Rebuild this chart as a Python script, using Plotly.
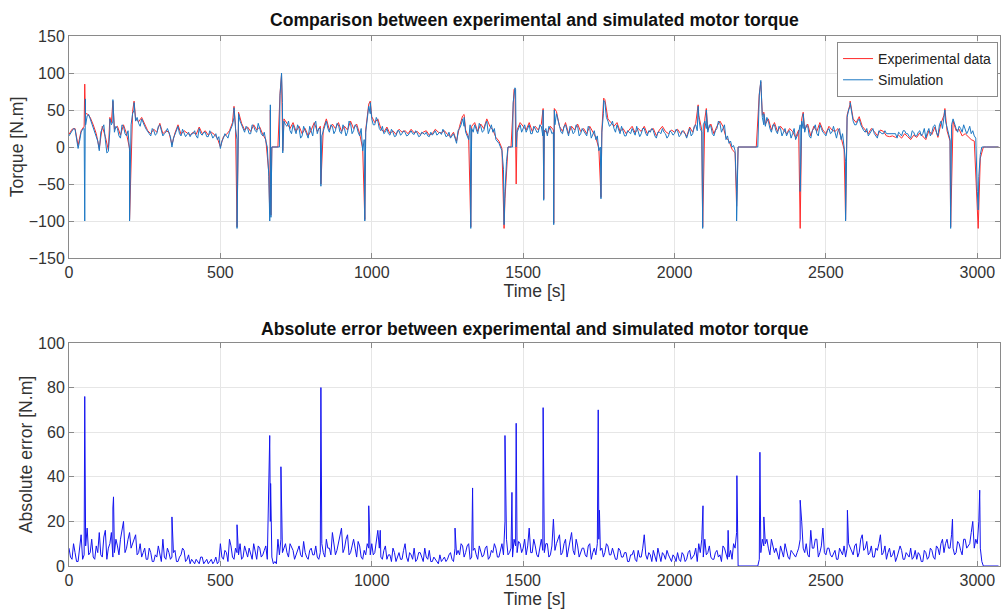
import numpy as np
import plotly.graph_objects as go
from plotly.subplots import make_subplots

# ---------------- data ----------------
# base samples every 10 s (t = 0, 10, ... 3070)
grid_step = 10
sim_base = [
    15, 22, 24, -2, 20, 25, 42, 38, 28, 15,
    -5, 25, 10, -6, 30, 20, 25, 12, 28, 15,
    -5, 45, 35, 32, 38, 28, 20, 15, 22, 18,
    30, 15, 20, 18, 0, 17, 28, 15, 20, 17,
    14, 18, 15, 25, 16, 20, 14, 18, 15, 10,
    -2, 12, 15, 20, 30, 25, 45, 30, 20, 25,
    18, 28, 20, 25, 15, 8, -40, 0, 0, 0,
    85, 35, 28, 22, 30, 18, 25, 15, 22, 12,
    20, 30, 18, 25, 22, 35, 20, 28, 22, 30,
    18, 25, 20, 32, 22, 28, 15, -5, 20, 55,
    38, 30, 35, 22, 18, 25, 16, 20, 15, 22,
    18, 20, 16, 22, 17, 19, 15, 18, 20, 14,
    16, 22, 18, 17, 20, 15, 12, 18, 5, 25,
    38, 20, 10, 25, 30, 18, 28, 22, 35, 25,
    20, 10, 5, -5, -60, 0, 0, 75, 20, 30,
    25, 20, 30, 18, 25, 20, 28, 20, 15, 25,
    20, 45, 25, 18, 30, 15, 25, 20, 28, 18,
    22, 15, 25, 18, 10, -5, 20, 60, 35, 30,
    25, 30, 18, 22, 15, 20, 25, 16, 22, 18,
    25, 15, 20, 22, 12, 20, 25, 18, 15, 20,
    18, 22, 16, 20, 12, 25, 18, 30, 40, 20,
    35, 20, 28, 15, 25, 32, 25, 10, 5, 0,
    -5, 0, 0, 0, 0, 0, 0, 0, 70, 40,
    28, 35, 20, 30, 18, 25, 20, 15, 22, 18,
    10, 20, 35, 20, 28, 12, 25, 18, 30, 20,
    15, 25, 20, 18, 22, 10, 0, 40, 55, 35,
    30, 38, 25, 20, 15, 22, 18, 12, 20, 18,
    18, 18, 18, 18, 20, 15, 22, 18, 12, 20,
    15, 22, 18, 12, 25, 20, 30, 15, 35, 40,
    25, 10, 38, 25, 28, 20, 25, 22, 18, 15,
    -60, -10, 0, 0, 0, 0, 0, 0,
]
# simulation samples half-way between the base samples (t = 5, 15, ... 3065)
sim_mid = [
    18, 25, 12, 8, 24, 30, 44, 32, 20, 8,
    20, 30, -8, 22, 35, 28, 15, 30, 18, 22,
    30, 50, 40, 28, 32, 24, 18, 25, 16, 28,
    22, 18, 25, 14, 12, 22, 18, 24, 14, 20,
    18, 22, 12, 18, 20, 14, 22, 12, 18, 14,
    8, 18, 12, 25, 40, 10, 35, 25, 28, 18,
    30, 22, 32, 18, 20, 0, -70, 0, 0, 0,
    60, 30, 35, 18, 25, 30, 12, 28, 18, 28,
    15, 35, 25, 15, 30, 25, 30, 18, 32, 20,
    30, 15, 35, 18, 30, 20, 25, 10, 35, 45,
    30, 40, 25, 28, 20, 18, 24, 14, 22, 16,
    22, 15, 20, 18, 22, 14, 20, 17, 15, 20,
    20, 16, 20, 24, 14, 20, 16, 12, 22, 30,
    28, 15, 30, 20, 25, 32, 20, 30, 18, 30,
    25, 8, 0, -30, -20, 0, 0, 78, 25, 20,
    30, 25, 18, 28, 20, 30, 15, 25, 28, 18,
    30, 35, 20, 28, 20, 28, 18, 30, 15, 25,
    18, 28, 12, 22, 15, 0, 45, 40, 28, 35,
    20, 25, 28, 15, 22, 18, 20, 28, 14, 25,
    18, 22, 25, 15, 20, 18, 20, 12, 22, 16,
    24, 14, 22, 18, 20, 15, 28, 22, 25, 30,
    25, 30, 18, 22, 35, 20, 30, 15, 8, 2,
    -60, 0, 0, 0, 0, 0, 0, 0, 85, 30,
    40, 25, 30, 22, 28, 15, 25, 20, 12, 25,
    15, 30, 25, 30, 15, 22, 30, 15, 25, 18,
    22, 18, 28, 12, 25, 18, -20, 50, 45, 30,
    35, 30, 22, 25, 18, 25, 14, 22, 18, 22,
    18, 18, 18, 12, 18, 22, 18, 14, 22, 15,
    20, 15, 25, 20, 15, 28, 20, 30, 25, 35,
    20, 30, 30, 20, 25, 30, 18, 28, 22, 12,
    -40, 0, 0, 0, 0, 0, 0,
]
exp_base = [
    17, 24, 25, 2, 22, 28, 45, 40, 30, 18,
    -2, 28, 14, -4, 33, 24, 28, 16, 30, 18,
    -2, 48, 38, 34, 40, 30, 22, 18, 24, 20,
    32, 18, 22, 20, 3, 19, 30, 17, 22, 19,
    16, 20, 17, 27, 18, 22, 16, 20, 17, 12,
    0, 14, 17, 22, 33, 28, 47, 32, 23, 27,
    21, 30, 23, 27, 17, 10, -35, 0, 0, 0,
    88, 38, 32, 25, 33, 21, 28, 18, 25, 15,
    23, 33, 21, 28, 25, 38, 23, 31, 25, 33,
    21, 28, 23, 35, 25, 31, 18, -2, 23, 58,
    41, 33, 38, 25, 20, 27, 18, 22, 17, 24,
    20, 22, 18, 24, 19, 21, 17, 20, 22, 16,
    18, 24, 20, 19, 22, 17, 14, 20, 8, 28,
    42, 23, 13, 28, 33, 21, 31, 25, 38, 28,
    23, 13, 8, -2, -70, 0, 0, 78, 23, 33,
    28, 23, 33, 21, 28, 23, 31, 23, 18, 28,
    23, 48, 28, 21, 33, 18, 28, 23, 31, 21,
    25, 18, 28, 21, 13, -2, 23, 64, 38, 33,
    28, 33, 21, 25, 18, 23, 28, 19, 25, 21,
    28, 18, 23, 25, 15, 23, 28, 21, 18, 23,
    20, 24, 18, 22, 14, 27, 20, 32, 43, 23,
    38, 23, 31, 18, 28, 35, 28, 13, 8, -3,
    -8, 0, 0, 0, 0, 0, 0, 0, 72, 43,
    31, 38, 23, 33, 21, 28, 23, 18, 25, 21,
    13, 23, 38, 23, 31, 15, 28, 21, 33, 23,
    18, 28, 23, 21, 25, 13, -3, 43, 58, 38,
    33, 41, 28, 23, 18, 25, 21, 15, 23, 21,
    15, 14, 15, 13, 16, 12, 18, 14, 10, 16,
    13, 19, 15, 10, 22, 17, 27, 13, 32, 43,
    22, 8, 35, 22, 24, 15, 18, 14, 10, 8,
    -70, -15, 0, 0, 0, 0, 0, 0,
]
# narrow spikes between samples: time, simulation, experiment
spike_t = [52, 54, 135, 145, 200, 215, 545, 555, 663, 665, 667, 697, 702, 706,
           832, 977, 995, 1305, 1327, 1437, 1467, 1473, 1477, 1566, 1568, 1601,
           1603, 1757, 1766, 2078, 2093, 2105, 2205, 2285, 2295, 2415, 2425,
           2565, 2580, 2893, 2912, 3003]
spike_sim = [-100, 65, 38, 64, -100, 60, 53, -110, -100, 57, -95, 70, 100, -8,
             -53, -100, 60, 40, -110, -105, 60, 80, 0, 50, -72, -105,
             50, -70, 63, 55, -110, 50, -100, 90, 45, -60, 45,
             -100, 60, 50, -110, -85]
spike_exp = [85, 45, 40, 62, -98, 62, 55, -108, -90, 50, -92, 72, 98, -5,
             -50, -98, 62, 44, -108, -110, 62, 78, -50, 52, -70, -103,
             52, -68, 66, 57, -108, 52, -80, 88, 47, -110, 47,
             -98, 62, 52, -108, -110]

err_base = [
    8, 3, 6, 2, 14, 5, 17, 6, 4, 9,
    15, 4, 16, 8, 15, 6, 9, 12, 20, 8,
    15, 10, 14, 6, 4, 8, 3, 6, 2, 4,
    5, 12, 3, 6, 4, 7, 2, 5, 7, 3,
    1, 2, 3, 1, 4, 2, 1, 3, 2, 1,
    10, 3, 6, 12, 4, 8, 5, 3, 9, 4,
    6, 10, 3, 8, 5, 9, 30, 4, 2, 12,
    12, 8, 6, 10, 7, 5, 9, 4, 6, 3,
    8, 5, 4, 6, 6, 12, 8, 15, 5, 10,
    17, 8, 14, 6, 12, 4, 9, 3, 5, 8,
    10, 6, 16, 4, 7, 3, 5, 8, 2, 6,
    3, 10, 2, 5, 8, 3, 6, 2, 4, 7,
    2, 3, 1, 2, 4, 3, 6, 2, 5, 5,
    9, 6, 10, 4, 8, 3, 7, 5, 9, 4,
    6, 8, 4, 10, 20, 5, 8, 12, 6, 10,
    8, 5, 17, 6, 9, 4, 12, 6, 10, 5,
    21, 10, 14, 6, 12, 8, 15, 5, 9, 6,
    8, 4, 10, 6, 5, 12, 8, 6, 9, 5,
    6, 3, 7, 4, 6, 2, 5, 3, 7, 4,
    14, 3, 5, 7, 2, 4, 6, 3, 5, 2,
    4, 6, 2, 5, 3, 7, 4, 8, 10, 12,
    12, 6, 4, 3, 7, 5, 9, 5, 4, 3,
    8, 0, 0, 0, 0, 0, 0, 0, 3, 12,
    10, 8, 12, 6, 5, 9, 4, 7, 3, 6,
    4, 8, 20, 6, 5, 16, 8, 12, 6, 17,
    5, 8, 4, 7, 3, 6, 9, 8, 8, 5,
    10, 6, 14, 8, 5, 9, 4, 7, 14, 6,
    3, 8, 5, 2, 6, 7, 3, 5, 8, 4,
    3, 5, 2, 6, 4, 7, 3, 8, 10, 6,
    12, 8, 8, 6, 10, 5, 12, 9, 15, 8,
    10, 8, 0, 0, 0, 0, 0, 0,
]
err_mid = [
    4, 10, 2, 7, 3, 9, 5, 12, 3, 6,
    5, 13, 3, 10, 4, 12, 5, 16, 6, 12,
    8, 12, 5, 10, 6, 3, 8, 2, 5, 9,
    2, 4, 8, 3, 6, 2, 4, 8, 2, 5,
    3, 1, 2, 4, 1, 3, 2, 1, 4, 2,
    4, 7, 2, 9, 3, 6, 10, 4, 6, 8,
    3, 6, 9, 4, 7, 3, 20, 1, 1, 5,
    6, 10, 4, 8, 3, 7, 5, 11, 4, 7,
    5, 9, 3, 10, 4, 8, 5, 10, 7, 14,
    6, 12, 5, 9, 8, 11, 4, 7, 10, 5,
    5, 12, 8, 3, 9, 5, 2, 6, 4, 3,
    7, 4, 6, 3, 2, 6, 4, 8, 3, 2,
    4, 2, 5, 3, 2, 5, 3, 8, 7, 10,
    4, 9, 3, 7, 5, 9, 4, 8, 3, 7,
    10, 4, 8, 5, 12, 6, 4, 9, 11, 6,
    12, 9, 6, 12, 5, 8, 7, 10, 4, 9,
    7, 12, 5, 10, 4, 11, 7, 12, 4, 8,
    5, 9, 3, 8, 10, 7, 4, 10, 5, 8,
    3, 8, 4, 6, 2, 5, 7, 2, 4, 8,
    5, 6, 2, 4, 8, 2, 5, 7, 3, 5,
    2, 3, 6, 2, 6, 3, 5, 2, 6, 4,
    5, 9, 3, 6, 4, 2, 8, 3, 7, 10,
    15, 0, 0, 0, 0, 0, 0, 0, 6, 9,
    12, 5, 9, 8, 3, 6, 10, 4, 7, 5,
    6, 12, 8, 10, 4, 8, 12, 4, 9, 6,
    8, 5, 6, 3, 8, 5, 4, 10, 6, 9,
    4, 12, 7, 11, 6, 4, 8, 10, 5, 9,
    6, 4, 7, 4, 9, 3, 6, 4, 3, 7,
    6, 2, 7, 3, 8, 4, 9, 5, 12, 10,
    8, 14, 5, 11, 7, 12, 8, 10, 20, 12,
    20, 2, 0, 0, 0, 0, 0,
]
err_spike_t = [52, 145, 147, 340, 555, 663, 666, 700, 832, 990, 1028, 1275, 1333,
               1440, 1463, 1477, 1566, 1748, 1752, 2094, 2177, 2206, 2282, 2295,
               2415, 2571, 2918, 3008]
err_spike_v = [76, 26, 31, 22, 18.5, 58.5, 37, 44.5, 80, 27, 16, 17, 35,
               58.5, 33, 64, 71, 70, 25, 27, 16, 40.5, 51, 22,
               29.5, 25, 21, 34]

x_ticks = [0, 500, 1000, 1500, 2000, 2500, 3000]
torque_ticks = [-150, -100, -50, 0, 50, 100, 150]
err_ticks = [0, 20, 40, 60, 80, 100]

# ---------------- build series ----------------
def merge(parts):
    t = np.concatenate([np.asarray(p[0], float) for p in parts])
    v = np.concatenate([np.asarray(p[1], float) for p in parts])
    o = np.argsort(t, kind="stable")
    return t[o], v[o]

t_base = np.arange(len(sim_base)) * grid_step
t_mid = np.arange(len(sim_mid)) * grid_step + grid_step / 2

t_sim, v_sim = merge([(t_base, sim_base), (t_mid, sim_mid), (spike_t, spike_sim)])
t_exp, v_exp = merge([(t_base, exp_base), (spike_t, spike_exp)])
t_err, v_err = merge([(np.arange(len(err_base)) * grid_step, err_base),
                      (np.arange(len(err_mid)) * grid_step + grid_step / 2, err_mid),
                      (err_spike_t, err_spike_v)])

fig = make_subplots(rows=2, cols=1)
fig.add_trace(go.Scatter(x=t_exp, y=v_exp, mode="lines", name="Experimental data",
                         line=dict(color="#FF2A2A", width=1)), row=1, col=1)
fig.add_trace(go.Scatter(x=t_sim, y=v_sim, mode="lines", name="Simulation",
                         line=dict(color="#1C78C4", width=1)), row=1, col=1)
fig.add_trace(go.Scatter(x=t_err, y=v_err, mode="lines", showlegend=False,
                         line=dict(color="#1414F0", width=1)), row=2, col=1)

font_family = "Liberation Sans, Arial, sans-serif"
tick_font = dict(size=16, color="#333333", family=font_family)
label_font = dict(size=17.6, color="#333333", family=font_family)
axis_common = dict(showline=True, linecolor="#8a8a8a", linewidth=1, mirror="ticks",
                   ticks="inside", ticklen=5, tickcolor="#8a8a8a", automargin=False,
                   showgrid=True, gridcolor="#e6e6e6", gridwidth=1, zeroline=False,
                   tickfont=tick_font)

fig.update_xaxes(**axis_common, range=[0, 3075], tickvals=x_ticks)
fig.update_yaxes(**axis_common)
fig.update_xaxes(domain=[0, 1], row=1, col=1,
                 title=dict(text="Time [s]", font=label_font, standoff=3))
fig.update_xaxes(domain=[0, 1], row=2, col=1,
                 title=dict(text="Time [s]", font=label_font, standoff=3))
fig.update_yaxes(domain=[0.5811, 1], range=[-150, 150], tickvals=torque_ticks, row=1, col=1,
                 title=dict(text="Torque [N.m]", font=label_font, standoff=0))
fig.update_yaxes(domain=[0, 0.4208], range=[0, 100], tickvals=err_ticks, row=2, col=1,
                 title=dict(text="Absolute error [N.m]", font=label_font, standoff=0))

title_font = dict(size=17.6, color="#111111", family=font_family)
fig.add_annotation(text="<b>Comparison between experimental and simulated motor torque</b>",
                   xref="paper", yref="paper", x=0.5, y=1.0, yshift=4, yanchor="bottom",
                   showarrow=False, font=title_font)
fig.add_annotation(text="<b>Absolute error between experimental and simulated motor torque</b>",
                   xref="paper", yref="paper", x=0.5, y=0.4208, yshift=2, yanchor="bottom",
                   showarrow=False, font=title_font)

fig.update_layout(
    width=1003, height=615,
    margin=dict(l=69, r=3, t=36, b=49),
    paper_bgcolor="white", plot_bgcolor="white",
    font=dict(family=font_family, color="#333333"),
    legend=dict(x=0.9979, y=0.9887, xanchor="right", yanchor="top",
                bgcolor="white", bordercolor="#8a8a8a", borderwidth=1,
                font=dict(size=14, color="#222222", family=font_family),
                tracegroupgap=0, itemwidth=30),
)

fig.write_html("out.html", config={"displayModeBar": False},
               post_script="document.body.style.margin='0px';")
